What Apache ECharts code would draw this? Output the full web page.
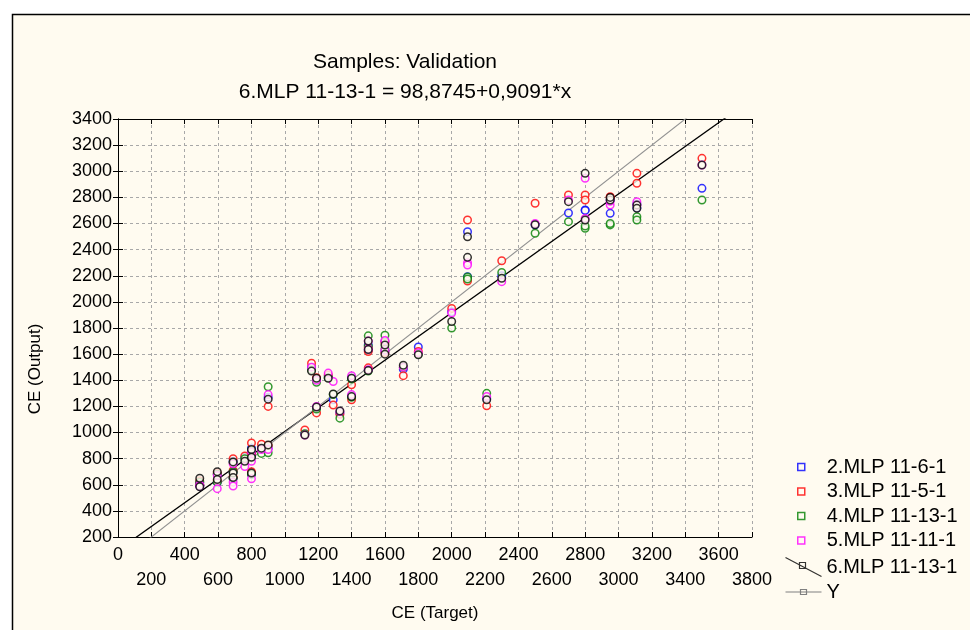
<!DOCTYPE html>
<html>
<head>
<meta charset="utf-8">
<script src="https://cdn.jsdelivr.net/npm/echarts@6/dist/echarts.min.js"></script>
<style>
html,body{margin:0;padding:0;background:#fff;}
#c{width:970px;height:630px;}
</style>
</head>
<body>
<div id="c"></div>
<script>
// ---- data ----
const targets = [490,490,595,595,690,690,690,760,800,800,800,860,900,900,1120,1160,1190,1190,1260,1290,1330,1400,1400,1500,1500,1500,1600,1600,1710,1800,2000,2095,2095,2210,2300,2500,2700,2800,2800,2950,2950,3110,3110,3500];
const mlp2 = [620,590,680,620,780,700,650,810,880,820,680,880,1270,880,990,1500,1410,1190,1430,1250,1150,1420,1280,1480,1670,1630,1700,1620,1485,1655,1925,2537,2193,1260,2200,2590,2680,2703,2700,2678,2780,2750,2720,2869];
const mlp3 = [630,600,690,630,800,710,660,820,920,840,700,910,1200,900,1020,1530,1420,1150,1440,1210,1140,1365,1250,1495,1650,1620,1690,1610,1435,1620,1950,2627,2160,1205,2315,2755,2818,2818,2780,2805,2800,2984,2908,3099];
const mlp4 = [620,600,680,620,770,700,650,800,860,810,680,840,1350,845,990,1480,1385,1180,1420,1290,1110,1410,1270,1470,1740,1660,1745,1640,1500,1600,1800,2190,2175,1300,2225,2525,2614,2563,2580,2589,2600,2652,2627,2780];
const mlp5 = [600,590,670,570,760,620,590,740,850,780,645,870,1290,870,980,1500,1400,1200,1455,1390,1160,1435,1290,1480,1700,1640,1705,1630,1500,1610,1915,2300,2282,1275,2155,2600,2780,2946,2639,2741,2770,2767,2740,3048];
const mlp6 = [650,585,700,640,775,690,655,780,870,810,690,880,1255,905,980,1470,1415,1195,1415,1295,1165,1415,1275,1475,1700,1635,1670,1600,1515,1595,1850,2499,2341,1250,2180,2590,2767,2984,2627,2780,2800,2741,2716,3048];
const fitIntercept = 98.8745, fitSlope = 0.9091;
const lineX = [0, 3800];
const xTicks = {min:0, max:3800, step:200};
const yTicks = {min:200, max:3400, step:200};
const seriesNames = ['2.MLP 11-6-1','3.MLP 11-5-1','4.MLP 11-13-1','5.MLP 11-11-1','6.MLP 11-13-1'];
const seriesColors = ['#0000ff','#ff0000','#008000','#ff00ff','#000000'];
const seriesValues = [mlp2, mlp3, mlp4, mlp5, mlp6];

const FONT = 'Liberation Sans, Arial, sans-serif';
const CREAM = '#fffbf0';
const chart = echarts.init(document.getElementById('c'), null, {renderer:'canvas'});

const scatterSeries = seriesNames.map((n,i)=>({
  name:n, type:'scatter', xAxisIndex:0, yAxisIndex:0,
  symbol:'circle', symbolSize:7.5,
  itemStyle:{color:CREAM, borderColor:seriesColors[i], borderWidth:1.5},
  data: targets.map((t,k)=>[t, seriesValues[i][k]]),
  z: 3+i, silent:true
}));

const gridSplit = {show:true, lineStyle:{color:'#a8a8a8', type:[3,3], width:1}};
const labelBase = {fontFamily:FONT, fontSize:18, color:'#000', showMinLabel:true, showMaxLabel:true, hideOverlap:false};

const option = {
  backgroundColor:'#ffffff',
  animation:false,
  graphic:[
    {type:'rect', z:-10, shape:{x:12.5, y:14.5, width:980, height:640}, style:{fill:CREAM, stroke:'#000', lineWidth:1.5}},
    {type:'text', x:405, y:62, style:{text:'Samples: Validation', font:'21px '+FONT, fill:'#000', align:'center', verticalAlign:'middle', textAlign:'center', textVerticalAlign:'middle'}},
    {type:'text', x:405, y:92, style:{text:'6.MLP 11-13-1 = 98,8745+0,9091*x', font:'21px '+FONT, fill:'#000', align:'center', verticalAlign:'middle', textAlign:'center', textVerticalAlign:'middle'}},
    {type:'text', x:35, y:369, rotation:Math.PI/2, style:{text:'CE (Output)', font:'17px '+FONT, fill:'#000', align:'center', verticalAlign:'middle', textAlign:'center', textVerticalAlign:'middle'}}
  ],
  grid:{left:118, right:218, top:119, bottom:93, containLabel:false},
  xAxis:[
    {type:'value', min:xTicks.min, max:xTicks.max, interval:xTicks.step, position:'bottom',
     name:'CE (Target)', nameLocation:'middle', nameGap:68,
     nameTextStyle:{fontFamily:FONT, fontSize:17, color:'#000'},
     axisLine:{show:true, lineStyle:{color:'#000', width:1}},
     axisTick:{show:true, inside:true, length:5, lineStyle:{color:'#000'}},
     axisLabel:Object.assign({show:true, margin:9, formatter:v=> (v % 400 === 0) ? String(v) : ''}, labelBase),
     splitLine:gridSplit},
    {type:'value', min:xTicks.min, max:xTicks.max, interval:xTicks.step, position:'bottom', offset:0,
     axisLine:{show:false}, axisTick:{show:false}, splitLine:{show:false},
     axisLabel:Object.assign({show:true, margin:34, formatter:v=> (v % 400 !== 0) ? String(v) : ''}, labelBase)},
    {type:'value', min:xTicks.min, max:xTicks.max, interval:xTicks.step, position:'top',
     axisLine:{show:true, lineStyle:{color:'#000', width:1}},
     axisTick:{show:true, inside:true, length:5, lineStyle:{color:'#000'}},
     axisLabel:{show:false}, splitLine:{show:false}}
  ],
  yAxis:[
    {type:'value', min:yTicks.min, max:yTicks.max, interval:yTicks.step, position:'left',
     axisLine:{show:true, lineStyle:{color:'#000', width:1}},
     axisTick:{show:true, inside:true, length:5, lineStyle:{color:'#000'}},
     axisLabel:Object.assign({show:true, margin:6, formatter:v=>String(v)}, labelBase),
     splitLine:gridSplit},
    {type:'value', min:yTicks.min, max:yTicks.max, interval:yTicks.step, position:'right',
     axisLine:{show:true, lineStyle:{color:'#000', width:1}},
     axisTick:{show:true, inside:true, length:5, lineStyle:{color:'#000'}},
     axisLabel:{show:false}, splitLine:{show:false}}
  ],
  legend:[
    {orient:'vertical', left:797, top:457, padding:0, itemWidth:7, itemHeight:7, itemGap:4.5,
     textStyle:{fontFamily:FONT, fontSize:20, lineHeight:20, color:'#000', padding:[0,0,0,17]},
     data:seriesNames.slice(0,4).map((n,i)=>({name:n, icon:'rect',
       itemStyle:{color:CREAM, borderColor:seriesColors[i], borderWidth:1.5}})),
     selectedMode:false},
    {orient:'vertical', left:783, top:555, padding:0, itemWidth:36, itemHeight:19, itemGap:1,
     textStyle:{fontFamily:FONT, fontSize:20, lineHeight:20, color:'#000', padding:[0,0,0,0]},
     data:[
       {name:'6.MLP 11-13-1', icon:'path://M0,0 L36,19 M14,5 L20,5 L20,11 L14,11 Z',
        itemStyle:{color:'none', borderColor:'#000', borderWidth:1.2}},
       {name:'Y', icon:'path://M0,0 M36,19 M0,9.5 L36,9.5 M15,7 L21,7 L21,12 L15,12 Z',
        itemStyle:{color:'none', borderColor:'#808080', borderWidth:1.2}}
     ],
     selectedMode:false}
  ],
  series:[
    ...scatterSeries,
    {name:'6.MLP 11-13-1', type:'line', xAxisIndex:0, yAxisIndex:0, showSymbol:false, silent:true, clip:true,
     lineStyle:{color:'#000', width:1.3}, itemStyle:{color:'#000'}, z:2,
     data: lineX.map(x=>[x, fitIntercept + fitSlope*x])},
    {name:'Y', type:'line', xAxisIndex:0, yAxisIndex:0, showSymbol:false, silent:true, clip:true,
     lineStyle:{color:'#909090', width:1.1}, itemStyle:{color:'#909090'}, z:2,
     data: lineX.map(x=>[x, x])}
  ]
};
chart.setOption(option);
</script>
</body>
</html>
